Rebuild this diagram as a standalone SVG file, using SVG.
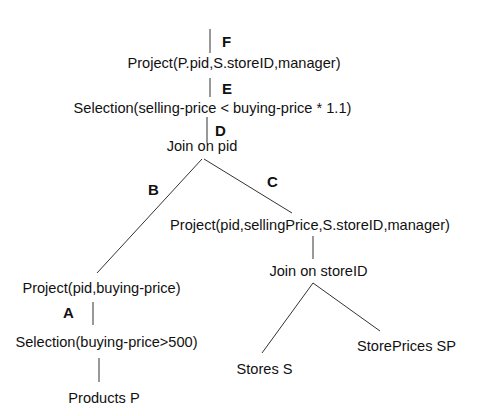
<svg xmlns="http://www.w3.org/2000/svg" width="480" height="416" viewBox="0 0 480 416">
<style>
.t{font-family:"Liberation Sans",Arial,sans-serif;font-size:14.6px;fill:#111;text-anchor:middle}
.l{font-family:"Liberation Sans",Arial,sans-serif;font-size:15px;font-weight:bold;fill:#111}
.c line{stroke:#333;stroke-width:1}
</style>
<rect width="480" height="416" fill="#fff"/>
<g class="c" id="connectors">
<line x1="210" y1="29" x2="210" y2="53"/>
<line x1="210" y1="78" x2="210" y2="97"/>
<line x1="207" y1="117" x2="207" y2="143"/>
<line x1="202" y1="159" x2="97" y2="273"/>
<line x1="204" y1="159" x2="292" y2="213"/>
<line x1="313" y1="236" x2="313" y2="259"/>
<line x1="313" y1="283" x2="262" y2="353"/>
<line x1="313" y1="283" x2="380" y2="331"/>
<line x1="93" y1="302" x2="93" y2="325"/>
<line x1="99" y1="358" x2="99" y2="382"/>
</g>
<g id="labels">
<text class="l" x="222" y="47">F</text>
<text class="l" x="222" y="94">E</text>
<text class="l" x="215" y="136">D</text>
<text class="l" x="148" y="195">B</text>
<text class="l" x="267" y="187">C</text>
<text class="l" x="63" y="318">A</text>
</g>
<g id="n1"><text class="t" x="234" y="68">Project(P.pid,S.storeID,manager)</text></g>
<g id="n2"><text class="t" x="212.5" y="113">Selection(selling-price &lt; buying-price * 1.1)</text></g>
<g id="n3"><text class="t" x="202" y="151">Join on pid</text></g>
<g id="n4"><text class="t" x="310" y="230">Project(pid,sellingPrice,S.storeID,manager)</text></g>
<g id="n5"><text class="t" x="318.5" y="276">Join on storeID</text></g>
<g id="n6"><text class="t" x="264.5" y="374">Stores S</text></g>
<g id="n7"><text class="t" x="406.5" y="351">StorePrices SP</text></g>
<g id="n8"><text class="t" x="101.5" y="293">Project(pid,buying-price)</text></g>
<g id="n9"><text class="t" x="106.5" y="347">Selection(buying-price&gt;500)</text></g>
<g id="n10"><text class="t" x="104" y="403">Products P</text></g>
</svg>
